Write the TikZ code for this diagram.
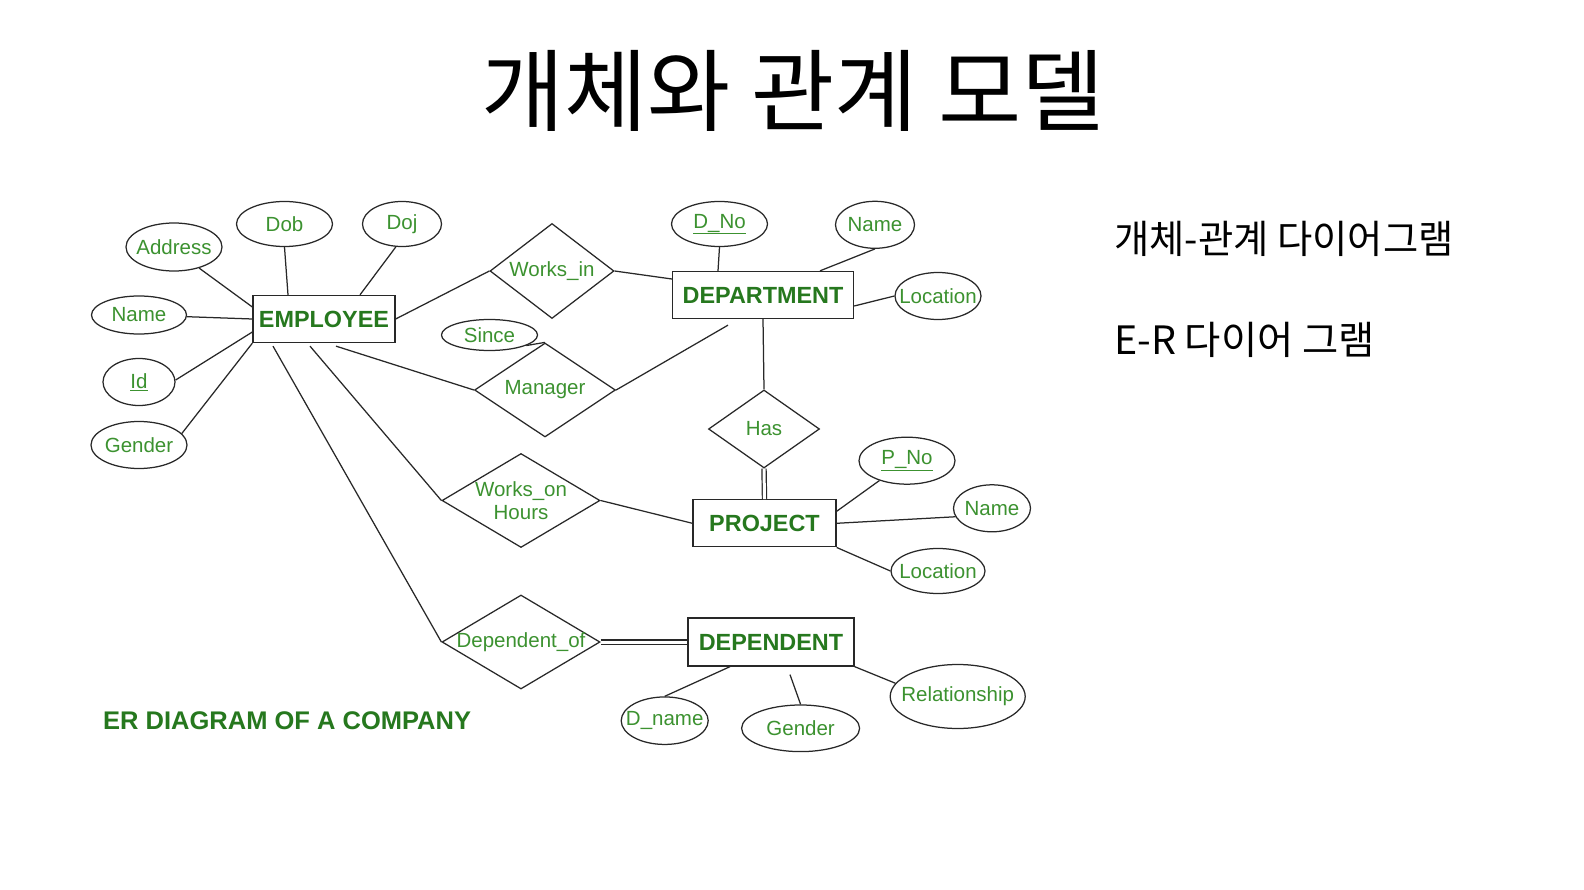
\documentclass[tikz,border=0pt]{standalone}
\usepackage{fontspec}
\setmainfont{Liberation Sans}
\newfontfamily\krfont{Noto Sans CJK KR}
\usetikzlibrary{shapes.geometric,calc}
\definecolor{attrg}{RGB}{60,146,48}
\definecolor{entg}{RGB}{38,120,30}
\definecolor{edgec}{RGB}{40,40,40}
\begin{document}
\begin{tikzpicture}[x=1pt,y=-1pt,
  conn/.style={draw=edgec,line width=1.25pt},
  dbl/.style={draw=edgec,line width=1.2pt,double=white,double distance=3pt},
  attr/.style={ellipse,draw=edgec,line width=1.25pt,inner sep=0pt},
  atext/.style={text=attrg,font=\fontsize{20.5}{23}\selectfont,inner sep=0pt,align=center},
  entity/.style={rectangle,draw=edgec,line width=1.3pt,inner sep=0pt,text=entg,font=\bfseries\fontsize{23.4}{27}\selectfont},
  rel/.style={diamond,draw=edgec,line width=1.25pt,inner sep=0pt},
  kr/.style={inner sep=0pt,text=black},
]
\fill[white] (0,0) rectangle (1584,890);
\path[use as bounding box] (0,0) rectangle (1584,890);

% titles
\node[kr,font=\krfont\fontsize{83}{90}\selectfont] (title) at (793,91) {\scalebox{1.09}[1.08]{개체와 관계 모델}};
\node[kr,anchor=west,font=\krfont\fontsize{35.5}{40}\selectfont] (sub1) at (1114,239) {\scalebox{1.08}[1.1]{개체-관계 다이어그램}};
\node[kr,anchor=west,font=\krfont\fontsize{35.5}{40}\selectfont] (sub2) at (1114,340) {\scalebox{1.11}[1.1]{E-R 다이어 그램}};
\node[inner sep=0pt,anchor=west,text=entg,font=\bfseries\fontsize{25.5}{30}\selectfont] (cap) at (103,721) {ER DIAGRAM OF A COMPANY};

% entities
\node[entity,minimum width=142pt,minimum height=47pt] (emp) at (324,319) {EMPLOYEE};
\node[entity,minimum width=181pt,minimum height=47pt] (dept) at (763,295) {DEPARTMENT};
\node[entity,minimum width=143pt,minimum height=47pt] (proj) at (764.5,523.3) {PROJECT};
\node[entity,minimum width=166pt,minimum height=48pt] (dpt) at (771,642) {DEPENDENT};

% relationships
\node[rel,minimum width=124pt,minimum height=95pt,label={[atext]center:Works\_in}] (wi) at (552,271) {};
\node[rel,minimum width=141pt,minimum height=94pt,label={[atext]center:Manager}] (man) at (545,390) {};
\node[rel,minimum width=111pt,minimum height=78pt,label={[atext]center:Has}] (has) at (764,429) {};
\node[rel,minimum width=158pt,minimum height=94pt,label={[atext]center:Works\_on\\Hours}] (won) at (521,500.5) {};
\node[rel,minimum width=158pt,minimum height=94pt,label={[atext]center:Dependent\_of}] (dof) at (521,642) {};

% attributes of EMPLOYEE
\node[attr,minimum width=96pt,minimum height=48pt,label={[atext]center:Address}] (addr) at (174,247) {};
\node[attr,minimum width=96pt,minimum height=45pt,label={[atext]center:Dob}] (dob) at (284.5,224) {};
\node[attr,minimum width=79pt,minimum height=45pt,label={[atext]center:Doj}] (doj) at (402,224) {};
\node[attr,minimum width=95pt,minimum height=38pt,label={[atext]center:Name}] (ename) at (139,315) {};
\node[attr,minimum width=72pt,minimum height=47pt,label={[atext]center:\underline{Id}}] (eid) at (139,382) {};
\node[attr,minimum width=96pt,minimum height=47pt,label={[atext]center:Gender}] (egen) at (139,445) {};

% attributes of DEPARTMENT
\node[attr,minimum width=96pt,minimum height=45pt,label={[atext]center:\underline{D\_No}}] (dno) at (719.5,224) {};
\node[attr,minimum width=79pt,minimum height=47pt,label={[atext]center:Name}] (dname) at (875,224.8) {};
\node[attr,minimum width=86pt,minimum height=47pt,label={[atext]center:Location}] (dloc) at (938,296) {};
\node[attr,minimum width=96pt,minimum height=31pt,label={[atext]center:Since}] (since) at (489.5,335) {};

% attributes of PROJECT
\node[attr,minimum width=96pt,minimum height=47pt,label={[atext]center:\underline{P\_No}}] (pno) at (907,460.7) {};
\node[attr,minimum width=77pt,minimum height=47pt,label={[atext]center:Name}] (pname) at (992,508.3) {};
\node[attr,minimum width=94pt,minimum height=45pt,label={[atext]center:Location}] (ploc) at (938,571) {};

% attributes of DEPENDENT
\node[attr,minimum width=87pt,minimum height=47.5pt,label={[atext]center:D\_name}] (dnm) at (664.7,720.7) {};
\node[attr,minimum width=118pt,minimum height=46.6pt,label={[atext]center:Gender}] (dgen) at (800.6,728.3) {};
\node[attr,minimum width=135pt,minimum height=64pt,label={[atext]center:Relationship}] (drel) at (957.7,696.5) {};

% connectors
\draw[conn] (addr.-40) -- ([yshift=12pt]emp.west);
\draw[conn] (dob.south) -- ([xshift=-36pt]emp.north);
\draw[conn] (doj.-105) -- ([xshift=36pt]emp.north);
\draw[conn] (ename) -- (emp.west);
\draw[conn] (eid.3) -- ([yshift=-13pt]emp.west);
\draw[conn] (egen.15) -- (emp.south west);
\draw[conn] (emp.east) -- (wi.west);
\draw[conn] (wi.east) -- ([yshift=16pt]dept.west);
\draw[conn] ([xshift=12pt,yshift=-3pt]emp.south) -- (man.west);
\draw[conn] (since.-16) -- (man.north);
\draw[conn] (man.east) -- ([xshift=-35pt,yshift=-6pt]dept.south);
\draw[conn] ([xshift=-14pt,yshift=-3pt]emp.south) -- (won.west);
\draw[conn] (won.east) -- (proj.west);
\draw[conn] ([xshift=-51pt,yshift=-3pt]emp.south) -- (dof.west);
\draw[dbl] (dof.east) -- (dpt.west);
\draw[conn] (dno.south) -- ([xshift=-45pt]dept.north);
\draw[conn] (dname.south) -- ([xshift=57pt]dept.north);
\draw[conn] ([yshift=-11pt]dept.east) -- (dloc.west);
\draw[conn] (dept.south) -- (has.north);
\draw[dbl] (has.south) -- (proj.north);
\draw[conn] (pno) -- ([yshift=12pt]proj.east);
\draw[conn] (proj.east) -- (pname.193);
\draw[conn] (proj.south east) -- (ploc.west);
\draw[conn] (dnm.north) -- ([xshift=-41pt]dpt.south);
\draw[conn] ([xshift=19pt,yshift=-8pt]dpt.south) -- (dgen.north);
\draw[conn] (dpt.south east) -- (drel.168);
\end{tikzpicture}
\end{document}
